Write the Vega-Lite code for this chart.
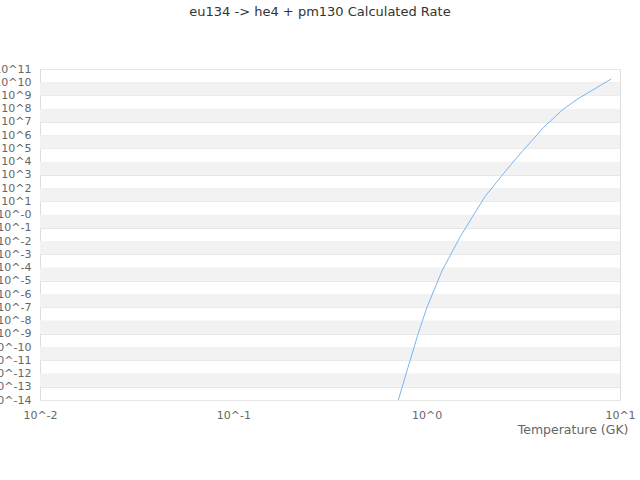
{
  "$schema": "https://vega.github.io/schema/vega-lite/v6.json",
  "autosize": "none",
  "width": 580,
  "height": 331,
  "padding": {"left": 40, "top": 69, "right": 20, "bottom": 80},
  "background": "white",
  "config": {
    "font": "DejaVu Sans",
    "view": {"stroke": "#dddddd", "strokeWidth": 1}
  },
  "title": {
    "text": "eu134 -> he4 + pm130 Calculated Rate",
    "fontSize": 13,
    "fontWeight": "normal",
    "color": "#333333",
    "anchor": "middle",
    "dx": -10,
    "offset": 44
  },
  "datasets": {
    "rate": [
      {"T": 0.7, "rate": 3.9e-15},
      {"T": 0.8, "rate": 2.8e-12},
      {"T": 0.9, "rate": 8.3e-10},
      {"T": 1.0, "rate": 8.7e-8},
      {"T": 1.2, "rate": 5.6e-5},
      {"T": 1.5, "rate": 2.5e-2},
      {"T": 2.0, "rate": 22.4},
      {"T": 2.5, "rate": 1290},
      {"T": 3.0, "rate": 3.1e4},
      {"T": 3.5, "rate": 3.9e5},
      {"T": 4.0, "rate": 3.6e6},
      {"T": 5.0, "rate": 7.4e7},
      {"T": 6.0, "rate": 5.2e8},
      {"T": 7.0, "rate": 1.95e9},
      {"T": 8.0, "rate": 6.3e9},
      {"T": 9.0, "rate": 1.74e10}
    ],
    "bands": [
      {"hi": 1e10, "lo": 1e9},
      {"hi": 1e8, "lo": 1e7},
      {"hi": 1e6, "lo": 1e5},
      {"hi": 1e4, "lo": 1e3},
      {"hi": 1e2, "lo": 1e1},
      {"hi": 1e0, "lo": 1e-1},
      {"hi": 1e-2, "lo": 1e-3},
      {"hi": 1e-4, "lo": 1e-5},
      {"hi": 1e-6, "lo": 1e-7},
      {"hi": 1e-8, "lo": 1e-9},
      {"hi": 1e-10, "lo": 1e-11},
      {"hi": 1e-12, "lo": 1e-13}
    ]
  },
  "layer": [
    {
      "data": {"name": "bands"},
      "mark": {"type": "rect", "color": "#f2f2f2"},
      "encoding": {
        "y": {"field": "hi", "type": "quantitative", "scale": {"type": "log", "domain": [1e-14, 1e11]}},
        "y2": {"field": "lo"}
      }
    },
    {
      "data": {"name": "rate"},
      "mark": {"type": "line", "color": "#7cb5ec", "strokeWidth": 1, "clip": true},
      "encoding": {
        "x": {
          "field": "T",
          "type": "quantitative",
          "scale": {"type": "log", "domain": [0.01, 10], "nice": false},
          "axis": {
            "title": "Temperature (GK)",
            "values": [0.01, 0.1, 1, 10],
            "labelExpr": "'10^' + round(log(datum.value)/LN10)",
            "grid": false,
            "ticks": false,
            "domain": false,
            "labelFontSize": 11,
            "labelColor": "#666666",
            "labelPadding": 9,
            "labelFlush": false,
            "titleFontSize": 12.5,
            "titleFontWeight": "normal",
            "titleColor": "#666666",
            "titleAlign": "right",
            "titleAnchor": "end",
            "titleX": 588,
            "titleY": 33,
            "titleBaseline": "alphabetic"
          }
        },
        "y": {
          "field": "rate",
          "type": "quantitative",
          "scale": {"type": "log", "domain": [1e-14, 1e11], "nice": false},
          "axis": {
            "title": null,
            "values": [1e-14, 1e-13, 1e-12, 1e-11, 1e-10, 1e-9, 1e-8, 1e-7, 1e-6, 1e-5, 1e-4, 1e-3, 1e-2, 1e-1, 1, 10, 100, 1e3, 1e4, 1e5, 1e6, 1e7, 1e8, 1e9, 1e10, 1e11],
            "labelExpr": "datum.value == 1 ? '10^-0' : '10^' + round(log(datum.value)/LN10)",
            "grid": true,
            "gridColor": "#e6e6e6",
            "gridWidth": 1,
            "ticks": false,
            "domain": false,
            "labelFontSize": 11,
            "labelColor": "#666666",
            "labelPadding": 9,
            "labelFlush": false,
            "labelOverlap": false
          }
        }
      }
    }
  ]
}
